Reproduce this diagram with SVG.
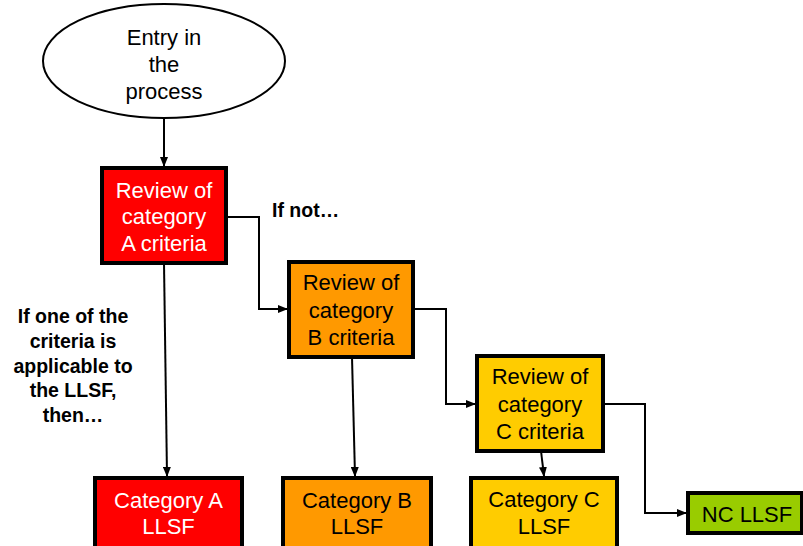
<svg xmlns="http://www.w3.org/2000/svg" width="803" height="546" viewBox="0 0 803 546">
<style>
  .box { stroke: #000; stroke-width: 4; }
  .t { font-family: "Liberation Sans", Arial, sans-serif; font-size: 22px; text-anchor: middle; fill: #000; }
  .w { fill: #fff; }
  .lbl { font-family: "Liberation Sans", Arial, sans-serif; font-size: 19.5px; font-weight: bold; fill: #000; }
  .c { fill: none; stroke: #000; stroke-width: 2; marker-end: url(#ah); }
</style>
<defs>
  <marker id="ah" markerWidth="10" markerHeight="8" refX="9" refY="4" orient="auto" markerUnits="userSpaceOnUse">
    <path d="M0,0 L10,4 L0,8 Z" fill="#000"/>
  </marker>
</defs>
<rect width="803" height="546" fill="#fff"/>

<g id="connectors">
  <line class="c" x1="164" y1="118" x2="164" y2="166"/>
  <polyline class="c" points="226,217 259,217 259,309 287,309"/>
  <polyline class="c" points="413,309 446,309 446,404 475,404"/>
  <polyline class="c" points="603,404 645,404 645,513 686,513"/>
  <line class="c" x1="164" y1="263" x2="167" y2="476"/>
  <line class="c" x1="352" y1="357" x2="355" y2="476"/>
  <line class="c" x1="541" y1="451" x2="544" y2="476"/>
</g>

<g id="entry">
  <ellipse cx="164" cy="61" rx="121" ry="57" fill="#fff" stroke="#000" stroke-width="2"/>
  <text class="t" x="164" y="45">Entry in</text>
  <text class="t" x="164" y="72">the</text>
  <text class="t" x="164" y="99">process</text>
</g>

<g id="reviewA">
  <rect class="box" x="102" y="168" width="124" height="95" fill="#ff0000"/>
  <text class="t w" x="164" y="197.5">Review of</text>
  <text class="t w" x="164" y="224">category</text>
  <text class="t w" x="164" y="250.5">A criteria</text>
</g>

<g id="reviewB">
  <rect class="box" x="289" y="262" width="124" height="95" fill="#ff9900"/>
  <text class="t" x="351" y="290">Review of</text>
  <text class="t" x="351" y="318">category</text>
  <text class="t" x="351" y="345">B criteria</text>
</g>

<g id="reviewC">
  <rect class="box" x="477" y="356" width="126" height="95" fill="#ffcc00"/>
  <text class="t" x="540" y="384">Review of</text>
  <text class="t" x="540" y="412">category</text>
  <text class="t" x="540" y="439">C criteria</text>
</g>

<g id="catA">
  <rect class="box" x="95" y="478" width="147" height="80" fill="#ff0000"/>
  <text class="t w" x="168.5" y="508">Category A</text>
  <text class="t w" x="168.5" y="534">LLSF</text>
</g>

<g id="catB">
  <rect class="box" x="283" y="478" width="148" height="80" fill="#ff9900"/>
  <text class="t" x="357" y="508">Category B</text>
  <text class="t" x="357" y="534">LLSF</text>
</g>

<g id="catC">
  <rect class="box" x="471" y="478" width="146" height="80" fill="#ffcc00"/>
  <text class="t" x="544" y="507">Category C</text>
  <text class="t" x="544" y="534">LLSF</text>
</g>

<g id="nc">
  <rect class="box" x="688" y="493" width="114" height="40" fill="#99cc00"/>
  <text class="t" x="747" y="522">NC LLSF</text>
</g>

<g id="labels">
  <text class="lbl" x="272" y="217">If not…</text>
  <text class="lbl" text-anchor="middle" x="73" y="323">If one of the</text>
  <text class="lbl" text-anchor="middle" x="73" y="348">criteria is</text>
  <text class="lbl" text-anchor="middle" x="73" y="373">applicable to</text>
  <text class="lbl" text-anchor="middle" x="73" y="397">the LLSF,</text>
  <text class="lbl" text-anchor="middle" x="73" y="422">then…</text>
</g>
</svg>
